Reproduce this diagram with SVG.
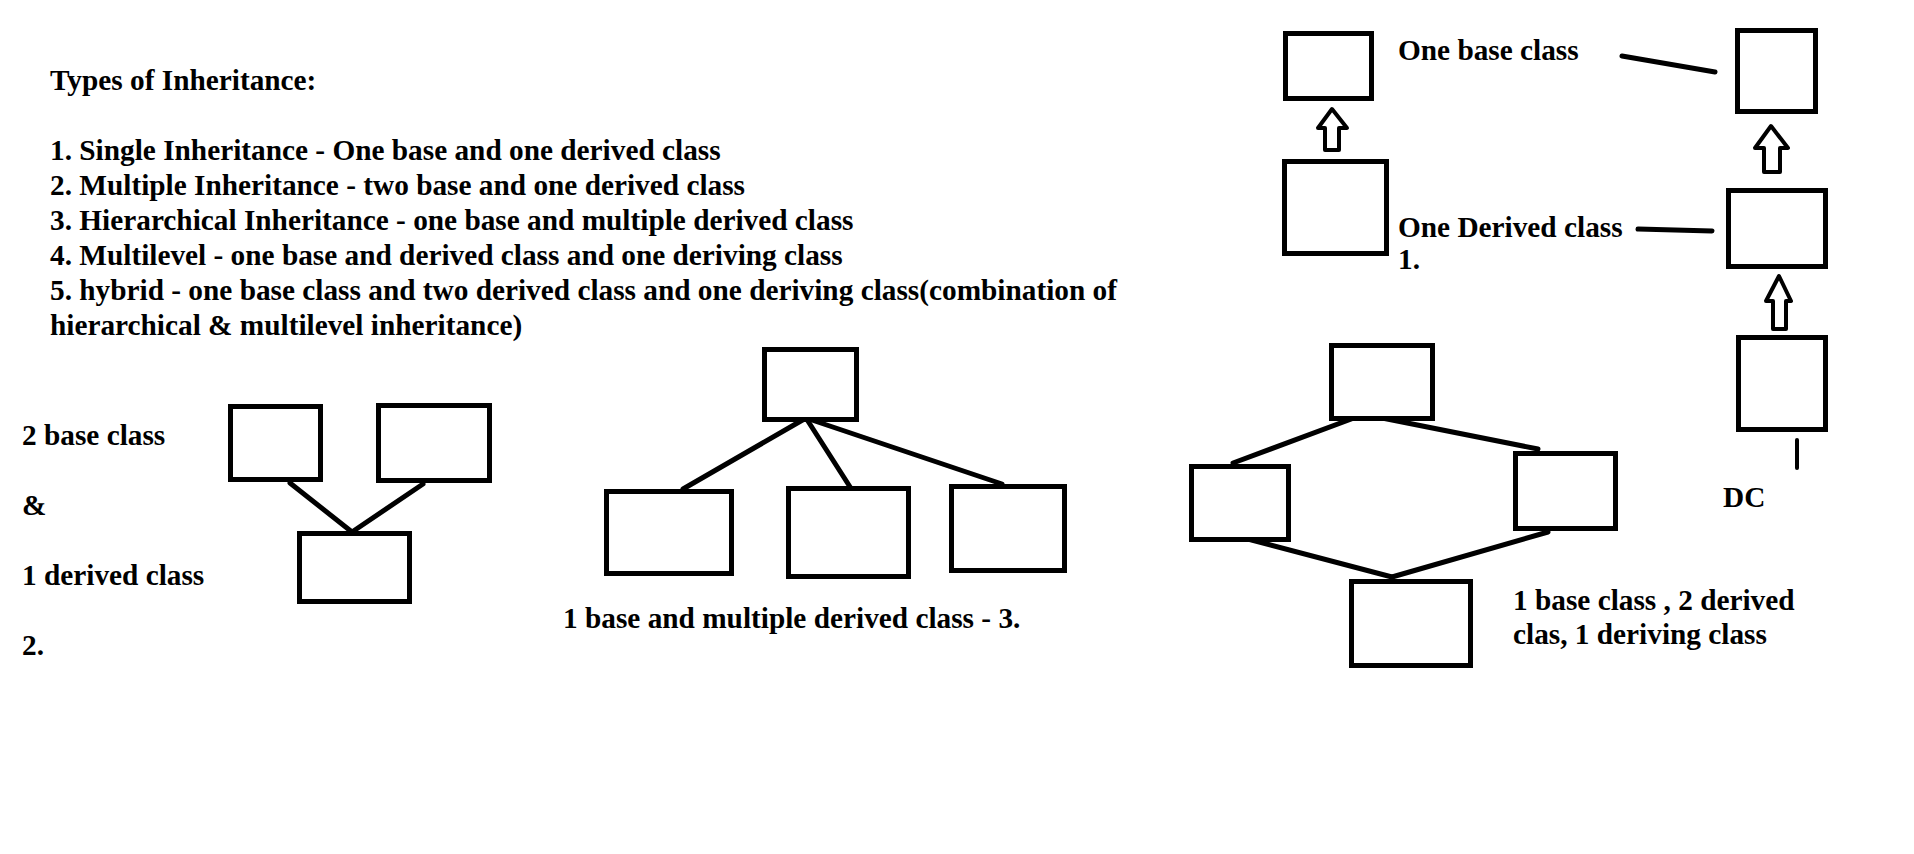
<svg xmlns="http://www.w3.org/2000/svg" width="1914" height="854" viewBox="0 0 1914 854">
<style>
.t{font-family:"Liberation Serif","Times New Roman",serif;font-weight:bold;font-size:29.3px;fill:#000}
.b{fill:#fff;stroke:#000;stroke-width:5}
.c{stroke:#000;stroke-width:5;stroke-linecap:round;fill:none}
.a{fill:#fff;stroke:#000;stroke-width:4;stroke-linejoin:round}
</style>
<rect width="1914" height="854" fill="#fff"/>
<g id="intro">
<text class="t" x="50" y="90">Types of Inheritance:</text>
<text class="t" x="50" y="160">1. Single Inheritance - One base and one derived class</text>
<text class="t" x="50" y="195">2. Multiple Inheritance - two base and one derived class</text>
<text class="t" x="50" y="230">3. Hierarchical Inheritance - one base and multiple derived class</text>
<text class="t" x="50" y="265">4. Multilevel - one base and derived class and one deriving class</text>
<text class="t" x="50" y="300">5. hybrid - one base class and two derived class and one deriving class(combination of</text>
<text class="t" x="50" y="335">hierarchical &amp; multilevel inheritance)</text>
</g>
<g id="connectors">
<line class="c" x1="290" y1="483" x2="352" y2="532"/>
<line class="c" x1="423" y1="484" x2="352" y2="532"/>
<line class="c" x1="806" y1="418" x2="683" y2="489"/>
<line class="c" x1="806" y1="418" x2="852" y2="490"/>
<line class="c" x1="806" y1="418" x2="1002" y2="484"/>
<line class="c" x1="1362" y1="415" x2="1233" y2="463"/>
<line class="c" x1="1362" y1="414" x2="1538" y2="449"/>
<line class="c" x1="1244" y1="538" x2="1392" y2="577"/>
<line class="c" x1="1548" y1="532" x2="1392" y2="577"/>
<line class="c" x1="1622" y1="56" x2="1715" y2="72"/>
<line class="c" x1="1638" y1="229" x2="1712" y2="231"/>
<line class="c" x1="1797" y1="440" x2="1797" y2="468" style="stroke-width:4"/>
<polygon class="a" points="1332,109 1347,128 1339,128 1339,150 1325,150 1325,128 1318,128"/>
<polygon class="a" points="1771,126 1788,148 1780,148 1780,172 1764,172 1764,148 1755,148"/>
<polygon class="a" points="1779,276 1791,301 1786,301 1786,329 1773,329 1773,301 1766,301"/>
</g>
<g id="multiple">
<rect class="b" x="230.5" y="406.5" width="90" height="73"/>
<rect class="b" x="378.5" y="405.5" width="111" height="75"/>
<rect class="b" x="299.5" y="533.5" width="110" height="68"/>
<text class="t" x="22" y="445">2 base class</text>
<text class="t" x="22" y="515">&amp;</text>
<text class="t" x="22" y="585">1 derived class</text>
<text class="t" x="22" y="655">2.</text>
</g>
<g id="hierarchical">
<rect class="b" x="764.5" y="349.5" width="92" height="70"/>
<rect class="b" x="606.5" y="491.5" width="125" height="82"/>
<rect class="b" x="788.5" y="488.5" width="120" height="88"/>
<rect class="b" x="951.5" y="486.5" width="113" height="84"/>
<text class="t" x="563" y="628">1 base and multiple derived class - 3.</text>
</g>
<g id="hybrid">
<rect class="b" x="1331.5" y="345.5" width="101" height="73"/>
<rect class="b" x="1191.5" y="466.5" width="97" height="73"/>
<rect class="b" x="1515.5" y="453.5" width="100" height="75"/>
<rect class="b" x="1351.5" y="581.5" width="119" height="84"/>
<text class="t" x="1513" y="610">1 base class , 2 derived</text>
<text class="t" x="1513" y="644">clas, 1 deriving class</text>
</g>
<g id="single">
<rect class="b" x="1285.5" y="33.5" width="86" height="65"/>
<rect class="b" x="1284.5" y="161.5" width="102" height="92"/>
<text class="t" x="1398" y="60">One base class</text>
<text class="t" x="1398" y="237">One Derived class</text>
<text class="t" x="1398" y="269">1.</text>
</g>
<g id="multilevel">
<rect class="b" x="1737.5" y="30.5" width="78" height="81"/>
<rect class="b" x="1728.5" y="190.5" width="97" height="76"/>
<rect class="b" x="1738.5" y="337.5" width="87" height="92"/>
<text class="t" x="1723" y="507">DC</text>
</g>
</svg>
